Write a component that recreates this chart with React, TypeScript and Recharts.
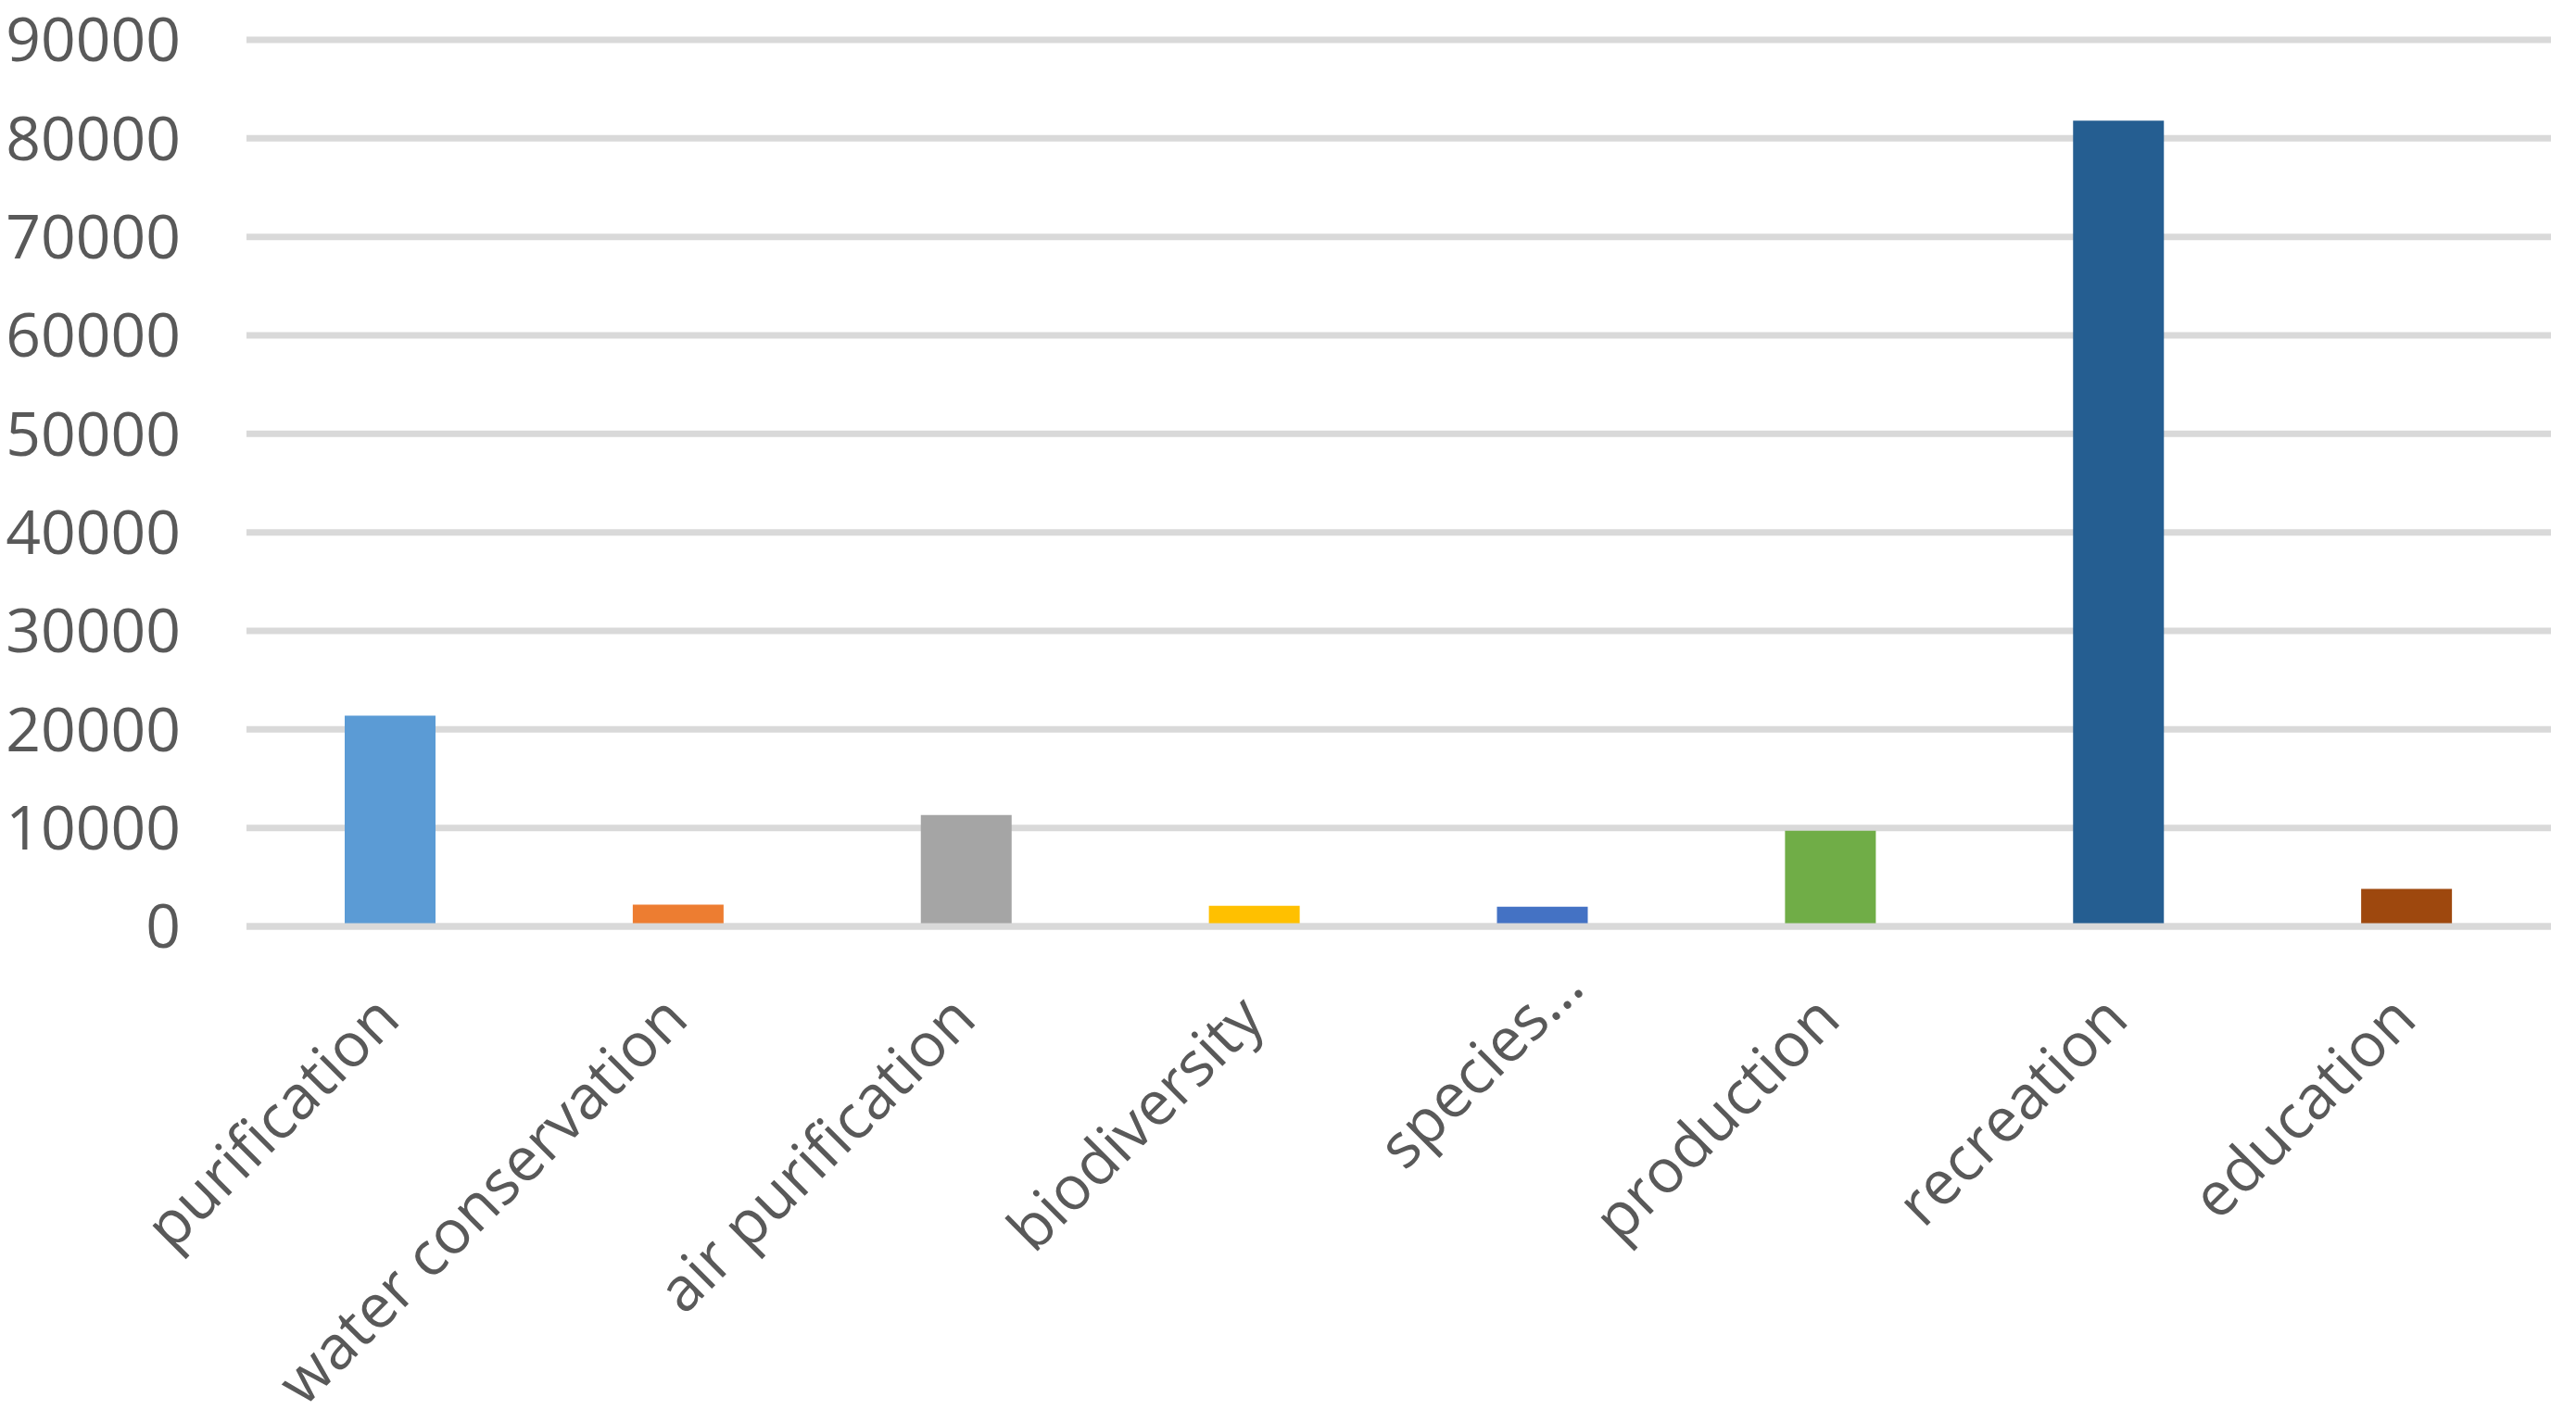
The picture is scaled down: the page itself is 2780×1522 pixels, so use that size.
import React from 'react';
import { BarChart, Bar, Cell, XAxis, YAxis, CartesianGrid } from 'recharts';

const categories = [
  'purification',
  'water conservation',
  'air purification',
  'biodiversity',
  'species…',
  'production',
  'recreation',
  'education',
];
const values = [21400, 2200, 11300, 2100, 2000, 9700, 81800, 3800];
const barColors = ['#5B9BD5', '#ED7D31', '#A5A5A5', '#FFC000', '#4472C4', '#70AD47', '#255E91', '#9E480E'];
const yTicks = [0, 10000, 20000, 30000, 40000, 50000, 60000, 70000, 80000, 90000];

const data = categories.map((name, i) => ({ name, value: values[i] }));

const FONT = '"Open Sans", "Noto Sans", sans-serif';

function AngledTick(props: any) {
  const { x, y, payload } = props;
  // truncated labels (ending in an ellipsis) sit a bit further along the diagonal
  const extra = String(payload.value).endsWith('…') ? 34 : 0;
  return (
    <g transform={`translate(${x + 13 + extra},${y + 103 - extra})`}>
      <text
        x={0}
        y={0}
        textAnchor="end"
        transform="rotate(-45)"
        fill="#595959"
        fontSize={66}
        fontFamily={FONT}
      >
        {payload.value}
      </text>
    </g>
  );
}

export default function App() {
  return (
    <div style={{ position: 'absolute', left: 0, top: 0, width: 2780, height: 1522, background: '#fff' }}>
      <BarChart
        width={2780}
        height={1522}
        data={data}
        margin={{ top: 43, right: 27, bottom: 0, left: 0 }}
      >
        <CartesianGrid vertical={false} stroke="#D9D9D9" strokeWidth={7} />
        <XAxis
          dataKey="name"
          height={522}
          interval={0}
          tickLine={false}
          tickSize={0}
          tickMargin={0}
          axisLine={{ stroke: '#D9D9D9', strokeWidth: 7 }}
          tick={<AngledTick />}
        />
        <YAxis
          width={266}
          domain={[0, 90000]}
          ticks={yTicks}
          interval={0}
          axisLine={false}
          tickLine={false}
          tickSize={0}
          tickMargin={71}
          tick={{ fontSize: 66, fill: '#595959', fontFamily: FONT }}
        />
        <Bar dataKey="value" barSize={98} isAnimationActive={false}>
          {data.map((d, i) => (
            <Cell key={d.name} fill={barColors[i]} />
          ))}
        </Bar>
      </BarChart>
    </div>
  );
}
